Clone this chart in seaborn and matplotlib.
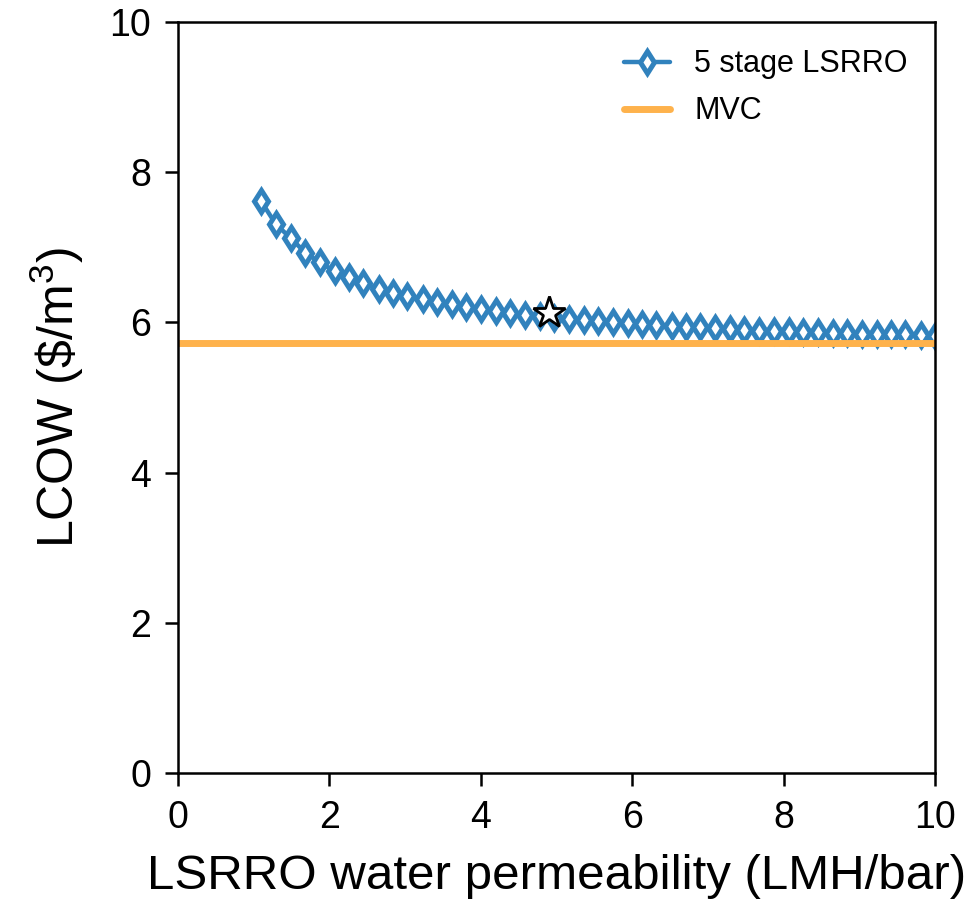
import matplotlib
matplotlib.use("Agg")
import pandas as pd
import seaborn as sns
import matplotlib.pyplot as plt

# LSRRO water permeability (LMH/bar)
permeability = [1.10, 1.29, 1.49, 1.68, 1.87, 2.07, 2.26, 2.45, 2.65, 2.84,
                3.03, 3.23, 3.42, 3.62, 3.81, 4.00, 4.20, 4.39, 4.58, 4.78,
                4.97, 5.16, 5.36, 5.55, 5.74, 5.94, 6.13, 6.32, 6.52, 6.71,
                6.90, 7.10, 7.29, 7.48, 7.68, 7.87, 8.07, 8.26, 8.45, 8.65,
                8.84, 9.03, 9.23, 9.42, 9.61, 9.81, 10.00]
# LCOW of 5 stage LSRRO ($/m3)
lcow_lsrro = [7.61, 7.31, 7.12, 6.93, 6.80, 6.68, 6.60, 6.52, 6.44, 6.39,
              6.35, 6.31, 6.27, 6.24, 6.21, 6.18, 6.155, 6.13, 6.10, 6.08,
              6.06, 6.04, 6.03, 6.02, 6.00, 5.99, 5.975, 5.965, 5.95, 5.94,
              5.935, 5.92, 5.91, 5.90, 5.89, 5.885, 5.88, 5.875, 5.87, 5.86,
              5.855, 5.85, 5.85, 5.845, 5.84, 5.83, 5.815]
mvc_lcow = 5.73
# highlighted point
star_x = [4.9]
star_y = [6.12]

df = pd.DataFrame({"perm": permeability, "lcow": lcow_lsrro})

sns.set_style("ticks")
plt.rcParams['font.family'] = ['Liberation Sans', 'DejaVu Sans']
plt.rcParams['mathtext.fontset'] = 'custom'
plt.rcParams['mathtext.rm'] = 'Liberation Sans'
plt.rcParams['mathtext.it'] = 'Liberation Sans'
plt.rcParams['text.color'] = 'black'
plt.rcParams['axes.labelcolor'] = 'black'
plt.rcParams['xtick.color'] = 'black'
plt.rcParams['ytick.color'] = 'black'
plt.rcParams['axes.edgecolor'] = 'black'

fig = plt.figure(figsize=(9.76, 9.05), dpi=100)
ax = fig.add_axes([0.1824, 0.1459, 0.7756, 0.8298])

blue = '#3182bd'
orange = '#feb24c'

sns.lineplot(data=df, x="perm", y="lcow", ax=ax, color=blue, lw=3.2,
             marker='d', markersize=11.5, markerfacecolor='white',
             markeredgecolor=blue, markeredgewidth=3.6, label='5 stage LSRRO')
ax.axhline(mvc_lcow, color=orange, lw=5, label='MVC')
ax.plot(star_x, star_y, marker='*', markersize=24, markerfacecolor='white',
        markeredgecolor='black', markeredgewidth=2, linestyle='none', zorder=5)

ax.set_xlim(0, 10)
ax.set_ylim(0, 10)
ax.set_xticks([0, 2, 4, 6, 8, 10])
ax.set_yticks([0, 2, 4, 6, 8, 10])
ax.tick_params(labelsize=27, width=1.8, length=9.5, direction='out', pad=10)
for s in ax.spines.values():
    s.set_linewidth(1.8)
    s.set_visible(True)

ax.set_xlabel('LSRRO water permeability (LMH/bar)', fontsize=35.5, labelpad=13)
ax.set_ylabel(r'LCOW (\$/m$^3$)', fontsize=36, labelpad=17)

ax.legend(loc='upper right', frameon=False, fontsize=22, handlelength=1.5,
          handletextpad=0.8, labelspacing=0.55)

fig.savefig('out.png', dpi=100)
